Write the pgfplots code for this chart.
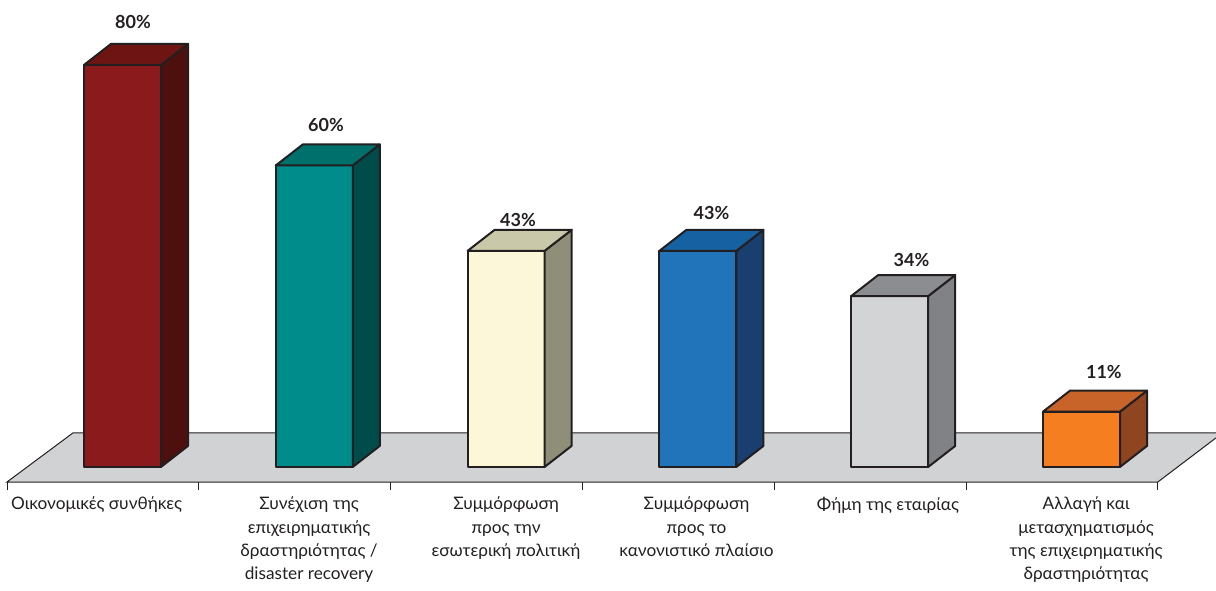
\documentclass[border=0pt]{standalone}
\usepackage{fontspec}
\setmainfont{Lato}
\usepackage{pgfplots}
\usepackage{pgfplotstable}
\pgfplotsset{compat=1.18}

\definecolor{edge}{HTML}{231F20}
\definecolor{floorc}{HTML}{D1D2D4}
\definecolor{front0}{HTML}{8B1A1C}
\definecolor{side0}{HTML}{4E0F0F}
\definecolor{top0}{HTML}{6E1513}
\definecolor{front1}{HTML}{008C8A}
\definecolor{side1}{HTML}{004C4B}
\definecolor{top1}{HTML}{00706D}
\definecolor{front2}{HTML}{FBF7D8}
\definecolor{side2}{HTML}{8F8F79}
\definecolor{top2}{HTML}{C9C9A9}
\definecolor{front3}{HTML}{2173BA}
\definecolor{side3}{HTML}{183F6F}
\definecolor{top3}{HTML}{1561A1}
\definecolor{front4}{HTML}{D3D4D6}
\definecolor{side4}{HTML}{808285}
\definecolor{top4}{HTML}{8C8D90}
\definecolor{front5}{HTML}{F47E20}
\definecolor{side5}{HTML}{8E4520}
\definecolor{top5}{HTML}{C8642A}

% x: category index, v: value in %, lx/ly: position of the value label
\pgfplotstableread{
x v lx ly
0 80 0.157 88.5
1 60 1.163 68.0
2 43 2.164 49.1
3 43 3.173 50.5
4 34 4.216 41.2
5 11 5.219 18.9
}\data

\begin{document}
\begin{tikzpicture}
\useasboundingbox (-3.5pt,-54pt) rectangle (604.5pt,241pt);
\begin{axis}[
  at={(0,0)}, anchor=south west,
  x=95.9pt, y=2.5125pt,
  xmin=-0.5, xmax=5.5, ymin=-3, ymax=90,
  clip=false,
  axis line style={draw=none},
  ytick=\empty,
  xtick pos=left,
  tick align=outside,
  major tick length=0pt,
  minor tick length=4pt,
  minor xtick={-0.5,0.5,1.5,2.5,3.5,4.5,5.5},
  minor tick style={line width=0.5pt, color=edge},
  xtick={-0.033,1.075,2.102,3.095,4.093,5.126},
  xticklabels={Οικονομικές συνθήκες,
    {Συνέχιση της\\επιχειρηματικής\\δραστηριότητας /\\disaster recovery},
    {Συμμόρφωση\\προς την\\εσωτερική πολιτική},
    {Συμμόρφωση\\προς το\\κανονιστικό πλαίσιο},
    Φήμη της εταιρίας,
    {Αλλαγή και\\μετασχηματισμός\\της επιχειρηματικής\\δραστηριότητας}},
  xticklabel style={align=center, font=\fontsize{8.6}{11.6}\selectfont, text=edge, anchor=north, yshift=-4pt},
  /pgf/number format/assume math mode=true,
]
% floor
\addplot[fill=floorc, draw=none] coordinates {(-0.5,-3) (5.5,-3) (5.803,5.77) (5.803,6.77) (-0.156,6.77)} -- cycle;
\addplot[draw=edge, line width=0.5pt] coordinates {(5.803,6.77) (-0.156,6.77) (-0.5,-3) (5.5,-3) (5.803,5.77)};
% bars
\pgfplotsforeachungrouped \i in {0,...,5}{%
  \pgfplotstablegetelem{\i}{v}\of\data
  \let\val\pgfplotsretval
  \pgfmathsetmacro\xa{\i-0.0985}%
  \pgfmathsetmacro\xb{\i+0.303}%
  \pgfmathsetmacro\xc{\i+0.4438}%
  \pgfmathsetmacro\xd{\i+0.0423}%
  \pgfmathsetmacro\vt{\val+4.18}%
  \edef\tmp{%
    \noexpand\addplot[fill=front\i, draw=edge, line width=1pt, line join=round] coordinates {(\xa,0) (\xb,0) (\xb,\val) (\xa,\val)} -- cycle;
    \noexpand\addplot[fill=side\i, draw=edge, line width=1pt, line join=round] coordinates {(\xb,0) (\xc,4.18) (\xc,\vt) (\xb,\val)} -- cycle;
    \noexpand\addplot[fill=top\i, draw=edge, line width=1pt, line join=round] coordinates {(\xa,\val) (\xb,\val) (\xc,\vt) (\xd,\vt)} -- cycle;
  }\tmp
}
% value labels
\addplot[only marks, mark=none, point meta=explicit,
  nodes near coords={\bfseries\pgfmathprintnumber{\pgfplotspointmeta}\%},
  every node near coord/.append style={anchor=center, font=\fontsize{9}{10}\selectfont, text=edge}]
  table[x=lx, y=ly, meta=v] {\data};
\end{axis}
\end{tikzpicture}
\end{document}
